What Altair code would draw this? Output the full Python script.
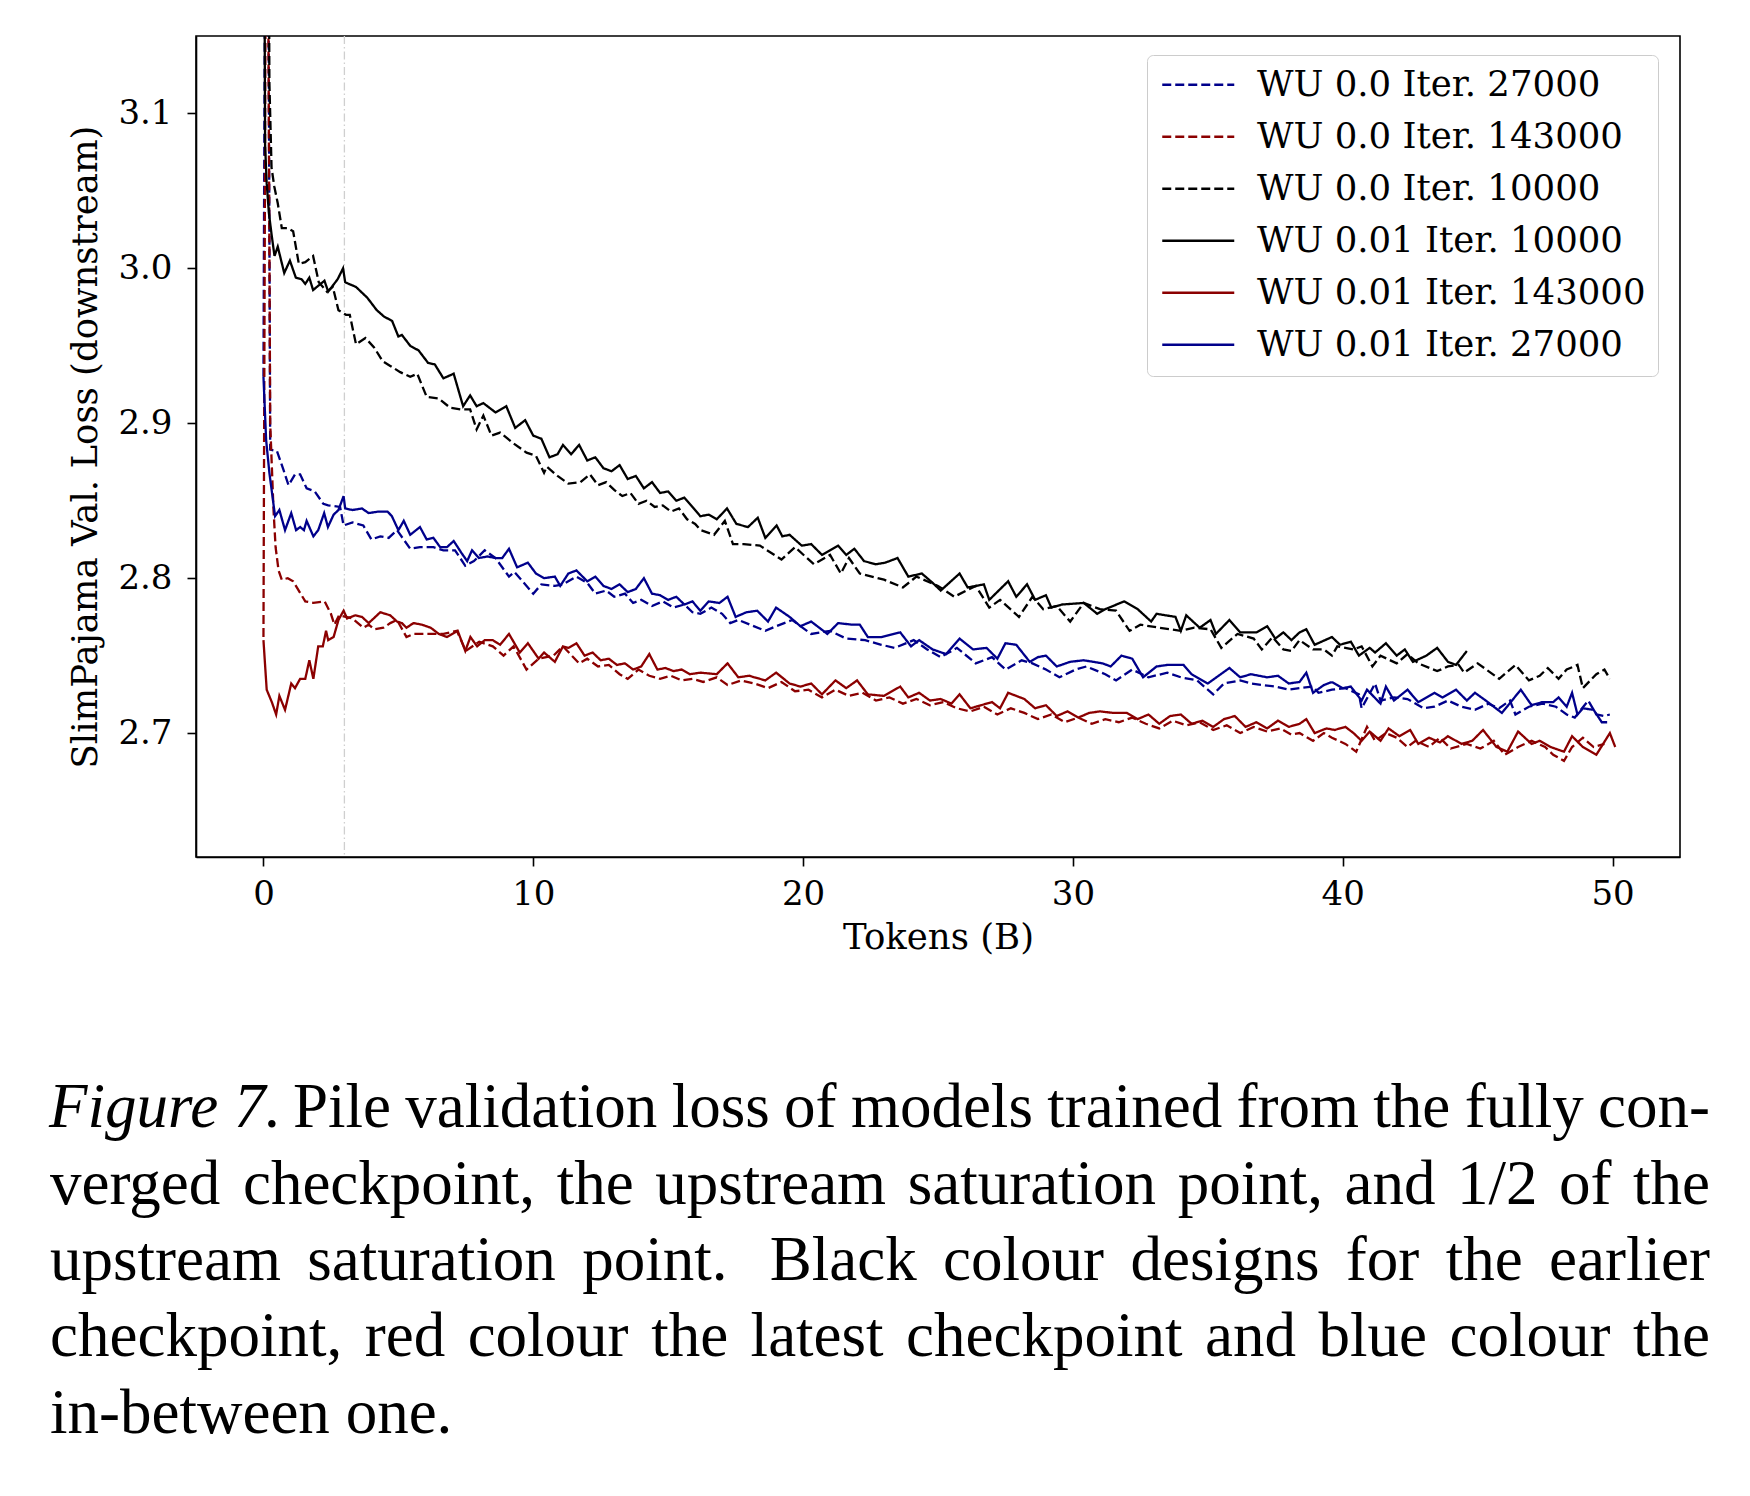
import altair as alt
import pandas as pd

# ---------------- data ----------------
series_order = ["WU 0.0 Iter. 27000", "WU 0.0 Iter. 143000", "WU 0.0 Iter. 10000",
                "WU 0.01 Iter. 10000", "WU 0.01 Iter. 143000", "WU 0.01 Iter. 27000"]
series_colors = ["#00008b", "#8b0000", "#000000", "#000000", "#8b0000", "#00008b"]
series_dashes = [[9, 4], [9, 4], [9, 4], [1, 0], [1, 0], [1, 0]]

x_ticks = [0, 10, 20, 30, 40, 50]
y_ticks = [2.7, 2.8, 2.9, 3.0, 3.1]
marker_x = [3.0]

# WU 0.01 Iter. 10000 (black solid)
bs_x = [0, 0.06, 0.12, 0.2, 0.3, 0.41, 0.53, 0.77, 0.98, 1.2,
        1.41, 1.55, 1.7, 1.84, 2.05, 2.26, 2.4, 2.62, 2.75, 2.95,
        3.03, 3.43, 3.85, 4.2, 4.46, 4.77, 5.0, 5.13, 5.44, 5.75,
        6.1, 6.35, 6.67, 7.05, 7.4, 7.66, 7.9, 8.15, 8.6, 9.0,
        9.33, 9.7, 10.0, 10.3, 10.6, 10.9, 11.1, 11.4, 11.7, 12.0,
        12.3, 12.6, 12.9, 13.2, 13.5, 13.8, 14.1, 14.4, 14.7, 15.0,
        15.3, 15.6, 15.9, 16.19, 16.5, 16.8, 17.18, 17.53, 17.96, 18.32,
        18.6, 19.02, 19.23, 19.5, 19.95, 20.3, 20.7, 21.3, 21.6, 21.9,
        22.26, 22.7, 23.04, 23.5, 23.9, 24.4, 24.8, 25.1, 25.8, 26.1,
        26.7, 26.9, 27.6, 27.9, 28.3, 28.6, 29.0, 29.2, 29.6, 30.4,
        30.9, 31.2, 31.9, 32.4, 32.9, 33.1, 33.8, 34.0, 34.2, 34.7,
        35.1, 35.3, 35.8, 36.2, 36.8, 37.2, 37.5, 37.8, 38.1, 38.4,
        38.65, 38.96, 39.6, 39.9, 40.3, 40.6, 41.0, 41.2, 41.6, 42.0,
        42.3, 42.6, 43.1, 43.5, 43.9, 44.2, 44.6]
bs_y = [3.40, 3.08, 3.055, 3.036, 3.022, 3.008, 3.014, 2.997, 3.005, 2.994,
        2.993, 2.990, 2.994, 2.986, 2.989, 2.992, 2.985, 2.990, 2.993, 3.000,
        2.991, 2.988, 2.981, 2.973, 2.969, 2.966, 2.956, 2.957, 2.950, 2.947,
        2.939, 2.938, 2.929, 2.932, 2.911, 2.918, 2.911, 2.913, 2.907, 2.911,
        2.897, 2.902, 2.892, 2.890, 2.878, 2.880, 2.886, 2.880, 2.886, 2.876,
        2.878, 2.871, 2.869, 2.873, 2.864, 2.866, 2.858, 2.862, 2.855, 2.856,
        2.850, 2.852, 2.846, 2.840, 2.841, 2.838, 2.845, 2.835, 2.833, 2.839,
        2.826, 2.834, 2.827, 2.828, 2.821, 2.822, 2.815, 2.821, 2.815, 2.819,
        2.811, 2.809, 2.810, 2.813, 2.801, 2.803, 2.797, 2.792, 2.803, 2.794,
        2.796, 2.786, 2.798, 2.788, 2.796, 2.786, 2.789, 2.781, 2.783, 2.784,
        2.777, 2.780, 2.785, 2.780, 2.772, 2.777, 2.775, 2.766, 2.776, 2.768,
        2.773, 2.764, 2.773, 2.765, 2.765, 2.769, 2.761, 2.765, 2.760, 2.765,
        2.767, 2.757, 2.762, 2.757, 2.759, 2.750, 2.755, 2.752, 2.758, 2.750,
        2.754, 2.746, 2.750, 2.755, 2.746, 2.744, 2.753]

# WU 0.0 Iter. 10000 (black dashed)
bd_x = [0, 0.12, 0.22, 0.3, 0.4, 0.53, 0.68, 0.9, 1.1, 1.31,
        1.55, 1.84, 2.05, 2.35, 2.57, 2.78, 3.06, 3.2, 3.43, 3.78,
        4.1, 4.42, 4.7, 5.07, 5.44, 5.7, 6.05, 6.5, 6.92, 7.3,
        7.66, 7.9, 8.15, 8.45, 8.77, 9.27, 9.75, 10.1, 10.4, 10.5,
        10.9, 11.3, 11.75, 12.1, 12.4, 12.7, 13.0, 13.3, 13.6, 13.9,
        14.2, 14.5, 14.8, 15.1, 15.4, 15.7, 16.0, 16.2, 16.7, 17.1,
        17.4, 17.8, 18.4, 19.2, 19.7, 20.4, 21.0, 21.4, 21.7, 22.1,
        23.0, 23.7, 24.2, 25.0, 25.6, 26.4, 26.9, 27.3, 28.0, 28.5,
        28.9, 29.4, 29.9, 30.4, 31.0, 31.6, 32.1, 32.5, 33.2, 34.0,
        34.5, 35.1, 35.5, 36.1, 36.7, 37.0, 37.4, 37.8, 38.1, 38.4,
        38.9, 39.3, 39.6, 39.8, 40.4, 40.7, 41.1, 41.4, 42.0, 42.4,
        42.8, 43.5, 43.9, 44.3, 44.5, 45.0, 45.4, 45.8, 46.4, 46.9,
        47.3, 47.6, 48.0, 48.3, 48.7, 48.9, 49.4, 49.7, 49.9]
bd_y = [3.40, 3.60, 3.12, 3.065, 3.053, 3.042, 3.026, 3.026, 3.024, 3.003,
        3.004, 3.008, 2.991, 2.985, 2.988, 2.973, 2.970, 2.970, 2.951, 2.955,
        2.949, 2.940, 2.937, 2.933, 2.930, 2.932, 2.917, 2.916, 2.910, 2.909,
        2.909, 2.896, 2.905, 2.892, 2.894, 2.887, 2.881, 2.879, 2.868, 2.872,
        2.866, 2.861, 2.862, 2.867, 2.860, 2.862, 2.857, 2.853, 2.855, 2.848,
        2.850, 2.846, 2.847, 2.843, 2.845, 2.838, 2.835, 2.831, 2.828, 2.837,
        2.822, 2.822, 2.821, 2.812, 2.820, 2.809, 2.815, 2.803, 2.813, 2.803,
        2.799, 2.794, 2.801, 2.795, 2.788, 2.795, 2.781, 2.786, 2.775, 2.788,
        2.780, 2.782, 2.772, 2.784, 2.780, 2.779, 2.766, 2.770, 2.768, 2.766,
        2.768, 2.767, 2.755, 2.764, 2.761, 2.754, 2.762, 2.754, 2.753, 2.760,
        2.754, 2.754, 2.750, 2.756, 2.754, 2.756, 2.743, 2.750, 2.745, 2.751,
        2.745, 2.740, 2.743, 2.744, 2.739, 2.745, 2.740, 2.735, 2.744, 2.734,
        2.737, 2.742, 2.735, 2.741, 2.744, 2.729, 2.738, 2.741, 2.735]

# WU 0.01 Iter. 27000 (blue solid)
bls_x = [0, 0.1, 0.22, 0.43, 0.59, 0.8, 1.03, 1.21, 1.36, 1.5,
         1.6, 1.85, 2.03, 2.25, 2.39, 2.6, 2.78, 2.97, 3.03, 3.3,
         3.65, 3.9, 4.26, 4.6, 4.76, 5.0, 5.2, 5.44, 5.8, 6.05,
         6.3, 6.55, 6.8, 7.05, 7.35, 7.55, 7.73, 7.98, 8.3, 8.6,
         8.85, 9.1, 9.4, 9.8, 10.1, 10.4, 10.8, 11.0, 11.3, 11.6,
         12.0, 12.3, 12.6, 12.9, 13.2, 13.5, 13.8, 14.1, 14.4, 14.7,
         15.0, 15.3, 15.6, 15.9, 16.19, 16.5, 16.9, 17.2, 17.5, 17.9,
         18.3, 18.7, 19.0, 19.5, 19.9, 20.3, 20.9, 21.3, 21.8, 22.1,
         22.4, 22.9, 23.6, 24.0, 24.3, 24.8, 25.3, 25.8, 26.3, 26.8,
         27.2, 27.5, 27.9, 28.4, 28.7, 29.0, 29.4, 29.9, 30.4, 31.1,
         31.4, 31.8, 32.2, 32.6, 33.1, 33.5, 34.1, 34.4, 35.0, 35.8,
         36.2, 36.6, 37.2, 37.6, 38.0, 38.4, 38.65, 38.9, 39.3, 39.6,
         40.0, 40.3, 40.7, 40.9, 41.4, 41.6, 41.9, 42.4, 42.8, 43.4,
         43.7, 44.2, 44.6, 44.9, 45.3, 45.6, 45.9, 46.6, 47.0, 47.4,
         47.8, 48.0, 48.3, 48.5, 48.7, 48.9, 49.3, 49.6, 49.8]
bls_y = [2.930, 2.889, 2.868, 2.840, 2.844, 2.831, 2.842, 2.831, 2.833, 2.831,
         2.837, 2.827, 2.831, 2.842, 2.833, 2.841, 2.844, 2.853, 2.845, 2.844,
         2.845, 2.842, 2.843, 2.843, 2.840, 2.831, 2.837, 2.828, 2.833, 2.825,
         2.826, 2.820, 2.820, 2.824, 2.816, 2.811, 2.818, 2.813, 2.814, 2.813,
         2.813, 2.819, 2.807, 2.810, 2.803, 2.800, 2.801, 2.795, 2.803, 2.805,
         2.798, 2.801, 2.795, 2.793, 2.796, 2.791, 2.793, 2.800, 2.790, 2.789,
         2.786, 2.788, 2.783, 2.785, 2.779, 2.785, 2.784, 2.788, 2.775, 2.778,
         2.779, 2.772, 2.781, 2.775, 2.769, 2.772, 2.764, 2.771, 2.770, 2.770,
         2.762, 2.762, 2.765, 2.756, 2.760, 2.754, 2.751, 2.761, 2.754, 2.755,
         2.748, 2.758, 2.757, 2.746, 2.749, 2.750, 2.743, 2.746, 2.747, 2.745,
         2.743, 2.750, 2.748, 2.736, 2.743, 2.744, 2.744, 2.738, 2.732, 2.742,
         2.736, 2.738, 2.736, 2.737, 2.732, 2.733, 2.739, 2.726, 2.731, 2.733,
         2.729, 2.730, 2.721, 2.728, 2.719, 2.730, 2.721, 2.728, 2.720, 2.726,
         2.723, 2.728, 2.721, 2.726, 2.721, 2.717, 2.713, 2.728, 2.718, 2.720,
         2.720, 2.723, 2.717, 2.726, 2.712, 2.716, 2.715, 2.707, 2.707]

# WU 0.0 Iter. 27000 (blue dashed)
bld_x = [0, 0.12, 0.25, 0.5, 0.74, 0.93, 1.17, 1.36, 1.6, 1.9,
         2.22, 2.4, 2.84, 2.97, 3.3, 3.7, 4.0, 4.33, 4.64, 4.95,
         5.44, 5.8, 6.3, 6.67, 7.1, 7.48, 7.8, 8.2, 8.6, 9.1,
         9.3, 9.65, 10.0, 10.3, 10.8, 11.1, 11.6, 12.0, 12.3, 12.7,
         13.0, 13.4, 13.7, 14.0, 14.4, 14.8, 15.2, 15.6, 15.9, 16.19,
         16.6, 17.0, 17.3, 17.6, 18.6, 19.0, 19.6, 19.9, 20.3, 21.0,
         21.6, 22.3, 22.9, 23.4, 24.1, 24.6, 25.1, 25.7, 26.4, 27.0,
         27.5, 28.1, 28.5, 29.0, 29.5, 30.1, 30.5, 31.2, 31.6, 32.2,
         32.8, 33.5, 34.0, 34.6, 35.2, 35.6, 36.2, 36.6, 37.5, 38.0,
         38.4, 38.9, 39.1, 39.6, 40.1, 40.6, 40.7, 41.2, 41.4, 41.9,
         42.4, 43.0, 43.4, 43.9, 44.4, 44.9, 45.4, 45.8, 46.2, 46.4,
         46.9, 47.4, 47.9, 48.3, 48.6, 49.1, 49.4, 49.7, 49.9]
bld_y = [2.930, 3.50, 2.883, 2.882, 2.870, 2.860, 2.867, 2.867, 2.858, 2.856,
         2.848, 2.847, 2.846, 2.834, 2.836, 2.834, 2.825, 2.827, 2.826, 2.831,
         2.819, 2.820, 2.820, 2.818, 2.818, 2.808, 2.811, 2.818, 2.813, 2.801,
         2.804, 2.797, 2.790, 2.796, 2.795, 2.796, 2.801, 2.797, 2.790, 2.792,
         2.788, 2.790, 2.784, 2.786, 2.782, 2.785, 2.781, 2.783, 2.778, 2.777,
         2.781, 2.777, 2.771, 2.773, 2.766, 2.769, 2.773, 2.769, 2.764, 2.766,
         2.761, 2.760, 2.757, 2.755, 2.760, 2.754, 2.749, 2.755, 2.745, 2.749,
         2.741, 2.747, 2.745, 2.741, 2.736, 2.741, 2.743, 2.738, 2.734, 2.741,
         2.736, 2.739, 2.736, 2.734, 2.725, 2.732, 2.734, 2.732, 2.730, 2.728,
         2.729, 2.730, 2.726, 2.728, 2.729, 2.725, 2.716, 2.732, 2.721, 2.723,
         2.722, 2.716, 2.717, 2.721, 2.717, 2.715, 2.719, 2.716, 2.721, 2.712,
         2.717, 2.719, 2.717, 2.712, 2.710, 2.721, 2.712, 2.711, 2.712]

# WU 0.01 Iter. 143000 (red solid)
rs_x = [0, 0.12, 0.31, 0.47, 0.59, 0.8, 1.03, 1.17, 1.36, 1.55,
        1.7, 1.85, 2.03, 2.2, 2.32, 2.4, 2.6, 2.78, 2.97, 3.1,
        3.4, 3.65, 3.9, 4.33, 4.7, 4.95, 5.13, 5.3, 5.56, 5.87,
        6.2, 6.5, 6.8, 7.2, 7.48, 7.67, 7.92, 8.2, 8.5, 8.77,
        9.1, 9.5, 9.8, 10.2, 10.4, 10.8, 11.1, 11.3, 11.6, 11.9,
        12.2, 12.5, 12.8, 13.1, 13.4, 13.7, 14.0, 14.3, 14.6, 14.9,
        15.2, 15.5, 15.8, 16.19, 16.8, 17.2, 17.6, 18.0, 18.6, 19.0,
        19.5, 19.9, 20.3, 20.7, 21.2, 21.6, 22.0, 22.4, 23.0, 23.6,
        23.9, 24.3, 24.7, 25.1, 25.5, 25.8, 26.2, 26.6, 27.0, 27.3,
        27.6, 28.2, 28.6, 29.0, 29.4, 29.8, 30.2, 30.6, 31.0, 31.5,
        32.0, 32.4, 32.8, 33.2, 33.6, 34.0, 34.4, 34.8, 35.2, 35.6,
        36.0, 36.4, 36.8, 37.2, 37.6, 38.0, 38.4, 38.65, 38.96, 39.4,
        39.7, 40.1, 40.4, 40.7, 41.0, 41.4, 41.7, 42.1, 42.5, 42.8,
        43.2, 43.6, 43.9, 44.4, 44.8, 45.2, 45.7, 46.1, 46.5, 47.0,
        47.3, 47.7, 48.2, 48.5, 48.9, 49.4, 49.9, 50.1]
rs_y = [2.760, 2.728, 2.720, 2.712, 2.724, 2.715, 2.732, 2.729, 2.735, 2.735,
        2.747, 2.735, 2.756, 2.756, 2.766, 2.760, 2.762, 2.773, 2.779, 2.774,
        2.776, 2.775, 2.771, 2.778, 2.776, 2.772, 2.771, 2.768, 2.771, 2.770,
        2.768, 2.764, 2.762, 2.766, 2.753, 2.762, 2.756, 2.760, 2.760, 2.757,
        2.764, 2.752, 2.758, 2.748, 2.752, 2.746, 2.756, 2.755, 2.758, 2.750,
        2.752, 2.747, 2.748, 2.744, 2.745, 2.741, 2.743, 2.751, 2.741, 2.742,
        2.740, 2.741, 2.738, 2.739, 2.738, 2.745, 2.736, 2.737, 2.734, 2.739,
        2.732, 2.730, 2.732, 2.725, 2.734, 2.729, 2.734, 2.725, 2.724, 2.730,
        2.723, 2.726, 2.721, 2.722, 2.719, 2.725, 2.716, 2.718, 2.720, 2.716,
        2.726, 2.722, 2.716, 2.718, 2.711, 2.714, 2.710, 2.713, 2.714, 2.713,
        2.713, 2.709, 2.712, 2.706, 2.711, 2.712, 2.706, 2.708, 2.704, 2.709,
        2.711, 2.704, 2.707, 2.703, 2.708, 2.704, 2.706, 2.709, 2.700, 2.703,
        2.702, 2.704, 2.700, 2.695, 2.701, 2.695, 2.703, 2.698, 2.702, 2.693,
        2.697, 2.694, 2.698, 2.693, 2.695, 2.702, 2.691, 2.688, 2.701, 2.693,
        2.695, 2.691, 2.688, 2.698, 2.691, 2.686, 2.700, 2.691]

# WU 0.0 Iter. 143000 (red dashed)
rd_x = [0, 0.12, 0.25, 0.37, 0.45, 0.56, 0.68, 0.9, 1.1, 1.55,
        1.85, 2.27, 2.5, 2.63, 2.8, 3.3, 3.7, 3.9, 4.1, 4.45,
        4.7, 4.95, 5.3, 5.56, 6.05, 6.67, 7.17, 7.5, 8.0, 8.5,
        8.9, 9.27, 9.75, 10.2, 10.75, 11.1, 11.7, 12.0, 12.4, 12.8,
        13.2, 13.5, 13.9, 14.3, 14.7, 15.1, 15.5, 15.9, 16.3, 16.8,
        17.2, 17.7, 18.2, 18.7, 19.2, 19.7, 20.2, 20.7, 21.2, 21.7,
        22.2, 22.7, 23.2, 23.7, 24.2, 24.7, 25.2, 25.7, 26.2, 26.7,
        27.2, 27.7, 28.2, 28.7, 29.2, 29.7, 30.2, 30.7, 31.2, 31.7,
        32.2, 32.7, 33.2, 33.7, 34.2, 34.7, 35.2, 35.7, 36.2, 36.7,
        37.2, 37.7, 38.1, 38.4, 38.9, 39.3, 39.6, 40.1, 40.5, 40.9,
        41.2, 41.6, 42.0, 42.4, 42.7, 43.2, 43.6, 44.0, 44.6, 45.1,
        45.6, 46.0, 46.5, 47.0, 47.5, 47.8, 48.2, 48.5, 48.9, 49.3,
        49.7]
rd_y = [2.762, 3.40, 2.90, 2.845, 2.820, 2.805, 2.799, 2.800, 2.798, 2.785,
        2.784, 2.785, 2.777, 2.770, 2.776, 2.774, 2.768, 2.770, 2.767, 2.768,
        2.771, 2.773, 2.762, 2.764, 2.764, 2.764, 2.766, 2.753, 2.759, 2.756,
        2.750, 2.756, 2.741, 2.748, 2.750, 2.756, 2.745, 2.748, 2.743, 2.744,
        2.738, 2.735, 2.741, 2.737, 2.735, 2.737, 2.734, 2.735, 2.733, 2.736,
        2.731, 2.734, 2.732, 2.729, 2.733, 2.727, 2.728, 2.723, 2.728, 2.724,
        2.726, 2.721, 2.723, 2.719, 2.722, 2.718, 2.720, 2.716, 2.714, 2.717,
        2.712, 2.716, 2.713, 2.709, 2.712, 2.707, 2.710, 2.706, 2.709, 2.707,
        2.710, 2.706, 2.703, 2.708, 2.705, 2.707, 2.702, 2.705, 2.700, 2.704,
        2.701, 2.703, 2.699, 2.700, 2.695, 2.700, 2.697, 2.693, 2.688, 2.704,
        2.695, 2.700, 2.697, 2.691, 2.695, 2.691, 2.697, 2.690, 2.693, 2.690,
        2.695, 2.686, 2.691, 2.695, 2.691, 2.686, 2.682, 2.691, 2.697, 2.691,
        2.693]

caption_head = "Figure 7."
caption_lines = [
    "Pile validation loss of models trained from the fully con-",
    "verged checkpoint, the upstream saturation point, and 1/2 of the",
    "upstream saturation point.  Black colour designs for the earlier",
    "checkpoint, red colour the latest checkpoint and blue colour the",
    "in-between one.",
]

# ---------------- build table ----------------
rows = []
for name, xs, ys in [
    ("WU 0.0 Iter. 27000", bld_x, bld_y),
    ("WU 0.0 Iter. 143000", rd_x, rd_y),
    ("WU 0.0 Iter. 10000", bd_x, bd_y),
    ("WU 0.01 Iter. 10000", bs_x, bs_y),
    ("WU 0.01 Iter. 143000", rs_x, rs_y),
    ("WU 0.01 Iter. 27000", bls_x, bls_y),
]:
    for xv, yv in zip(xs, ys):
        rows.append({"series": name, "tokens": xv, "loss": yv})
df = pd.DataFrame(rows)

SERIF = "DejaVu Serif"
TICK_FS = 34
TITLE_FS = 35.5

x_scale = alt.Scale(domain=[-2.5, 52.5], nice=False, zero=False)
y_scale = alt.Scale(domain=[2.62, 3.15], nice=False, zero=False)

legend = alt.Legend(
    title=None, orient="none", legendX=951, legendY=19,
    symbolType="M-3.6,0H3.6", symbolSize=400, symbolStrokeWidth=2.3,
    symbolOffset=21.5,
    labelFont=SERIF, labelFontSize=TITLE_FS, labelColor="black", labelLimit=700,
    labelOffset=41, rowPadding=15, padding=12,
    fillColor="white", strokeColor="#cccccc", cornerRadius=6,
)

lines = alt.Chart(df).mark_line(clip=True, strokeWidth=2.3).encode(
    x=alt.X("tokens:Q", scale=x_scale,
            axis=alt.Axis(values=x_ticks, format="d", title="Tokens (B)",
                          labelPadding=11, titlePadding=9)),
    y=alt.Y("loss:Q", scale=y_scale,
            axis=alt.Axis(values=y_ticks, format=".1f",
                          title="SlimPajama Val. Loss (downstream)",
                          labelPadding=15, titlePadding=14)),
    color=alt.Color("series:N", scale=alt.Scale(domain=series_order, range=series_colors),
                    legend=legend, sort=series_order),
    strokeDash=alt.StrokeDash("series:N", scale=alt.Scale(domain=series_order, range=series_dashes),
                              legend=legend, sort=series_order),
    order=alt.Order("tokens:Q"),
)

vline = alt.Chart(pd.DataFrame({"tokens": marker_x})).mark_rule(
    color="#cfcfcf", strokeWidth=1.3, strokeDash=[8, 3, 1.5, 3]
).encode(x=alt.X("tokens:Q", scale=x_scale))

# ---------------- caption (justified by word placement) ----------------
CAP_FONT = "Liberation Serif"
CAP_FS = 63
TIMES_W = {
    " ": 250, ",": 250, "-": 333, ".": 250, "/": 278, "0": 500, "1": 500, "2": 500,
    "7": 500, "B": 667, "F": 556, "P": 556,
    "a": 444, "b": 500, "c": 444, "d": 500, "e": 444, "f": 333, "g": 500, "h": 500,
    "i": 278, "j": 278, "k": 500, "l": 278, "m": 778, "n": 500, "o": 500, "p": 500,
    "q": 500, "r": 333, "s": 389, "t": 278, "u": 500, "v": 500, "w": 722, "x": 500,
    "y": 500, "z": 444,
}


def word_width(w):
    return sum(TIMES_W.get(ch, 500) for ch in w) * CAP_FS / 1000.0


def place_words(line, x0, x1, justify=True):
    words = line.split()
    widths = [word_width(w) for w in words]
    weights = [1.6 if words[i].endswith(".") else 1.0 for i in range(len(words) - 1)]
    if justify and len(words) > 1:
        unit = (x1 - x0 - sum(widths)) / sum(weights)
    else:
        unit = 0.25 * CAP_FS
    xs, cur = [], x0
    for i, w in enumerate(words):
        xs.append(cur)
        if i < len(weights):
            cur += widths[i] + weights[i] * unit
    return words, xs


cap_left = -146
cap_right = 1514
cap_base = [1091, 1168, 1244, 1320, 1397]

cap_rows = []
for i, line in enumerate(caption_lines):
    start = 97 if i == 0 else cap_left
    words, xs = place_words(line, start, cap_right, justify=(i < len(caption_lines) - 1))
    for w, xp in zip(words, xs):
        cap_rows.append({"word": w, "px": xp, "py": cap_base[i]})
cap_df = pd.DataFrame(cap_rows)

caption_body = alt.Chart(cap_df).mark_text(
    align="left", baseline="alphabetic", font=CAP_FONT, fontSize=CAP_FS, color="black"
).encode(
    text="word:N",
    x=alt.X("px:Q", scale=None),
    y=alt.Y("py:Q", scale=None),
)

caption_head_mark = alt.Chart(pd.DataFrame({"t": [caption_head]})).mark_text(
    align="left", baseline="alphabetic", font=CAP_FONT, fontSize=CAP_FS,
    fontStyle="italic", color="black"
).encode(text="t:N", x=alt.value(cap_left - 1), y=alt.value(cap_base[0]))

chart = alt.layer(vline, lines, caption_head_mark, caption_body).properties(
    width=1484, height=821,
    autosize=alt.AutoSizeParams(type="none"),
    padding={"left": 188, "top": 28, "right": 40, "bottom": 600},
    background="white",
).configure_view(
    stroke="black", strokeWidth=1.6
).configure_axis(
    labelFont=SERIF, labelFontSize=TICK_FS, labelColor="black",
    titleFont=SERIF, titleFontSize=TITLE_FS, titleFontWeight="normal", titleColor="black",
    tickColor="black", tickSize=9, tickWidth=1.6,
    domainColor="black", domainWidth=1.6, grid=False,
)

chart.save("out.html", embed_options={"renderer": "svg", "actions": False})
